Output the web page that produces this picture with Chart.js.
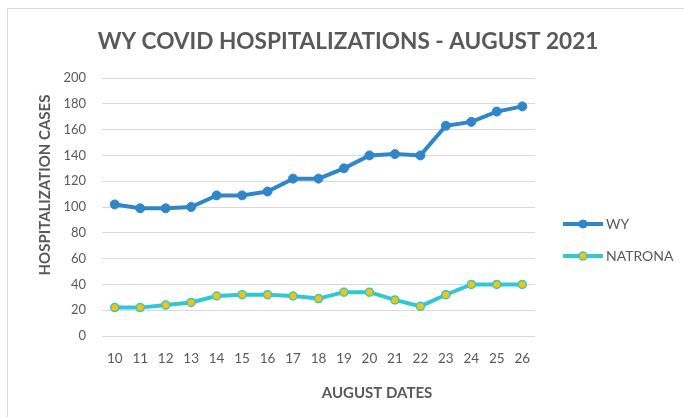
<!DOCTYPE html>
<html>
<head>
<meta charset="utf-8">
<script src="https://cdn.jsdelivr.net/npm/chart.js@4.4.1/dist/chart.umd.min.js"></script>
<style>
   html, body { margin: 0; padding: 0; background: #fff; }
   #wrap { position: relative; width: 684px; height: 417px; overflow: hidden; }
   #frame { position: absolute; left: 7px; top: 8px; width: 700px; height: 430px; border-top: 1px solid #d9d9d9; border-left: 1px solid #d9d9d9; }
   canvas { position: absolute; left: 0; top: 0; }
</style>
</head>
<body>
<div id="wrap">
   <div id="frame"></div>
   <canvas id="myChart" width="684" height="417"></canvas>
</div>
<script>
const days = ['10', '11', '12', '13', '14', '15', '16', '17', '18', '19', '20', '21', '22', '23', '24', '25', '26'];
const wyCases = [102, 99, 99, 100, 109, 109, 112, 122, 122, 130, 140, 141, 140, 163, 166, 174, 178];
const natronaCases = [22, 22, 24, 26, 31, 32, 32, 31, 29, 34, 34, 28, 23, 32, 40, 40, 40];
const yMin = 0;
const yMax = 200;
const yStep = 20;

const chartTitle = 'WY COVID HOSPITALIZATIONS - AUGUST 2021';
const yAxisTitle = 'HOSPITALIZATION CASES';
const xAxisTitle = 'AUGUST DATES';

const textGray = '#595959';
const fontName = 'Lato, "Open Sans", sans-serif';

// axis titles + legend drawn by hand so they sit where the excel chart had them
const sideText = {
   id: 'sideText',
   afterDraw(chart) {
      const { ctx, chartArea: a } = chart;
      ctx.save();
      ctx.fillStyle = textGray;
      ctx.font = `bold 15px ${fontName}`;
      ctx.textAlign = 'center';
      ctx.textBaseline = 'middle';
      ctx.fillText(xAxisTitle, a.left + 275, a.bottom + 57);
      ctx.translate(45, a.top + 107);
      ctx.rotate(-Math.PI / 2);
      ctx.fillText(yAxisTitle, 0, 0);
      ctx.restore();

      chart.data.datasets.forEach((ds, i) => {
         const x = a.right + 28;
         const y = a.top + 146 + i * 32;
         ctx.save();
         ctx.strokeStyle = ds.borderColor;
         ctx.lineWidth = 4;
         ctx.beginPath();
         ctx.moveTo(x, y);
         ctx.lineTo(x + 40, y);
         ctx.stroke();
         ctx.beginPath();
         ctx.arc(x + 20, y, 4, 0, Math.PI * 2);
         ctx.fillStyle = ds.pointBackgroundColor;
         ctx.fill();
         ctx.lineWidth = ds.pointBorderWidth;
         ctx.strokeStyle = ds.pointBorderColor;
         ctx.stroke();
         ctx.fillStyle = textGray;
         ctx.font = `14px ${fontName}`;
         ctx.textAlign = 'left';
         ctx.textBaseline = 'middle';
         ctx.fillText(ds.label, x + 43, y);
         ctx.restore();
      });
   }
};

var ctx = document.getElementById('myChart').getContext('2d');
var chart = new Chart(ctx, {
   type: 'line',
   data: {
      labels: days,
      datasets: [{
         label: 'WY',
         data: wyCases,
         borderColor: '#2f86c9',
         backgroundColor: '#2f86c9',
         borderWidth: 4,
         pointRadius: 4.5,
         pointBackgroundColor: '#2f86c9',
         pointBorderColor: '#2f86c9',
         pointBorderWidth: 1,
         tension: 0
      }, {
         label: 'NATRONA',
         data: natronaCases,
         borderColor: '#31c8d3',
         backgroundColor: '#ffc000',
         borderWidth: 4,
         pointRadius: 4,
         pointBackgroundColor: '#ffc000',
         pointBorderColor: '#31c8d3',
         pointBorderWidth: 1.5,
         tension: 0
      }]
   },
   options: {
      responsive: false,
      animation: false,
      layout: { padding: { left: 12, right: 0, top: 0, bottom: 0 } },
      plugins: {
         legend: { display: false },
         tooltip: { enabled: false },
         title: {
            display: true,
            text: chartTitle,
            color: textGray,
            font: { family: fontName, size: 22.6, weight: 'bold', lineHeight: 1.2 },
            padding: { top: 28, bottom: 22.9 }
         }
      },
      scales: {
         x: {
            offset: true,
            grid: { display: false },
            border: { display: false },
            ticks: { color: textGray, font: { family: fontName, size: 13.5 }, padding: 7, maxRotation: 0 },
            afterFit: s => { s.height = 81; }
         },
         y: {
            min: yMin,
            max: yMax,
            grid: { color: '#d9d9d9', drawTicks: false },
            border: { display: false },
            ticks: { stepSize: yStep, color: textGray, font: { family: fontName, size: 13 }, padding: 16 },
            afterFit: s => { s.width = 90; }
         },
         pad: {
            position: 'right',
            display: true,
            grid: { display: false },
            border: { display: false },
            ticks: { display: false },
            afterFit: s => { s.width = 149; }
         }
      }
   },
   plugins: [sideText]
});
</script>
</body>
</html>
